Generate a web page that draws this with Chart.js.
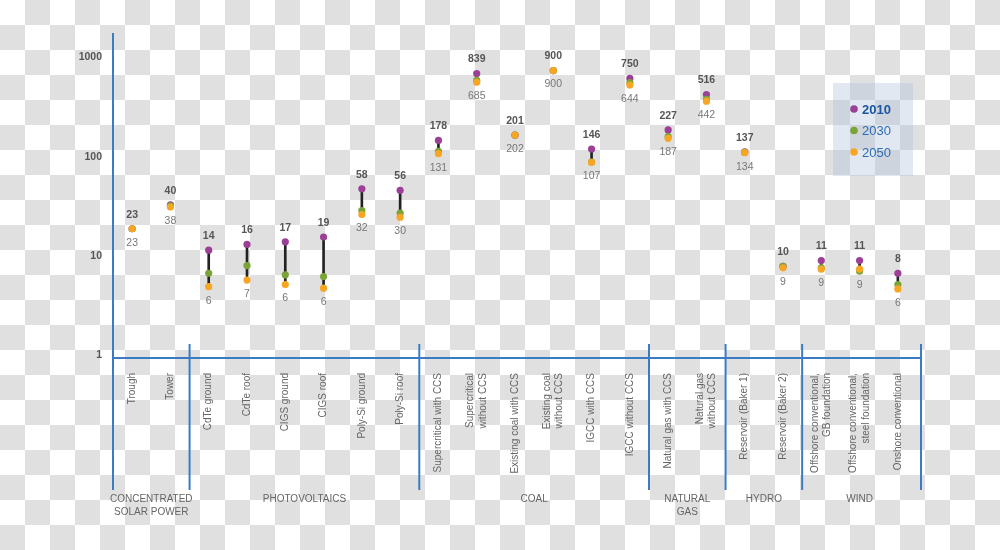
<!DOCTYPE html>
<html>
<head>
<meta charset="utf-8">
<script src="https://cdn.jsdelivr.net/npm/chart.js@4.4.0/dist/chart.umd.min.js"></script>
<style>
  html, body { margin: 0; padding: 0; }
  body {
    width: 1000px; height: 550px;
    background-image: conic-gradient(#e0e0e0 0 25%, #fff 0 50%, #e0e0e0 0 75%, #fff 0);
    background-size: 50px 50px;
  }
  #wrap { width: 1000px; height: 550px; }
</style>
</head>
<body>
<div id="wrap"><canvas id="chart" width="1000" height="550"></canvas></div>
<script>
// Technologies (axe des catégories)
const categories = [
  'Trough', 'Tower',
  'CdTe ground', 'CdTe roof', 'CIGS ground', 'CIGS roof', 'Poly-Si ground', 'Poly-Si roof',
  'Supercritical with CCS', 'Supercritical\nwithout CCS', 'Existing coal with CCS',
  'Existing coal\nwithout CCS', 'IGCC with CCS', 'IGCC without CCS',
  'Natural gas with CCS', 'Natural gas\nwithout CCS',
  'Reservoir (Baker 1)', 'Reservoir (Baker 2)',
  'Offshore conventional,\nGB foundation', 'Offshore conventional,\nsteel foundation', 'Onshore conventional'
];
const groupNames = ['CONCENTRATED\nSOLAR POWER', 'PHOTOVOLTAICS', 'COAL', 'NATURAL\nGAS', 'HYDRO', 'WIND'];
const groupSizes = [2, 6, 6, 2, 2, 3];

const years = ['2010', '2030', '2050'];
const v2010 = [23, 40, 14, 16, 17, 19, 58, 56, 178, 839, 201, 900, 146, 750, 227, 516, 137, 9.6, 11, 11, 8.2];
const v2030 = [23, 39, 8.2, 9.8, 7.9, 7.6, 35, 33, 138, 715, 202, 900, 108, 680, 195, 462, 135, 9.6, 9.3, 8.6, 6.3];
const v2050 = [23, 38, 6, 7, 6.3, 5.8, 32, 30, 131, 685, 202, 900, 107, 644, 187, 442, 134, 9.3, 9, 9, 5.7];

const yTicks = [1, 10, 100, 1000];

const COLORS = ['#9b3f97', '#7aa437', '#f6a623'];
const AXIS_BLUE = '#3a7cc3';
const FONT = '"Liberation Sans", Arial, sans-serif';

// Barre noire entre la valeur mini et maxi
const ranges = categories.map((c, i) => {
  const vals = [v2010[i], v2030[i], v2050[i]];
  return [Math.min(...vals), Math.max(...vals)];
});

function line(ctx, x1, y1, x2, y2) {
  ctx.beginPath();
  ctx.moveTo(x1, y1);
  ctx.lineTo(x2, y2);
  ctx.stroke();
}

const decorPlugin = {
  id: 'decor',
  beforeDatasetsDraw(chart) {
    const { ctx, chartArea, scales: { x } } = chart;
    const half = (x.getPixelForValue(1) - x.getPixelForValue(0)) / 2;
    const baseY = chartArea.bottom - 6;
    ctx.save();
    ctx.strokeStyle = AXIS_BLUE;
    ctx.lineWidth = 2;
    line(ctx, chartArea.left, 33, chartArea.left, 490);
    line(ctx, chartArea.left, baseY, chartArea.right + 4, baseY);
    let idx = 0;
    groupSizes.forEach(n => {
      idx += n;
      const sx = x.getPixelForValue(idx - 1) + half + (idx === categories.length ? 4 : 0);
      line(ctx, sx, baseY - 14, sx, 490);
    });
    ctx.restore();
  },
  afterDatasetsDraw(chart) {
    const { ctx, chartArea, scales: { x, y } } = chart;
    const half = (x.getPixelForValue(1) - x.getPixelForValue(0)) / 2;
    const baseY = chartArea.bottom - 6;
    ctx.save();

    // Valeurs 2010 (au-dessus) et 2050 (en dessous)
    ctx.textAlign = 'center';
    ctx.textBaseline = 'middle';
    categories.forEach((c, i) => {
      const px = x.getPixelForValue(i);
      ctx.font = 'bold 10.5px ' + FONT;
      ctx.fillStyle = '#555';
      ctx.fillText(String(Math.round(v2010[i])), px, y.getPixelForValue(ranges[i][1]) - 14);
      ctx.font = '10.5px ' + FONT;
      ctx.fillStyle = '#777';
      ctx.fillText(String(Math.round(v2050[i])), px, y.getPixelForValue(ranges[i][0]) + 14);
    });

    // Libellés des catégories, tournés
    ctx.font = '10px ' + FONT;
    ctx.fillStyle = '#666';
    categories.forEach((c, i) => {
      const lines = c.split('\n');
      const lh = 12.5;
      const px = x.getPixelForValue(i);
      ctx.save();
      ctx.translate(px - (lines.length - 1) * lh / 2, baseY + 15);
      ctx.rotate(-Math.PI / 2);
      ctx.textAlign = 'right';
      ctx.textBaseline = 'middle';
      lines.forEach((l, k) => ctx.fillText(l, 0, k * lh));
      ctx.restore();
    });

    // Libellés des groupes
    ctx.textAlign = 'center';
    ctx.textBaseline = 'middle';
    let start = 0;
    groupNames.forEach((g, k) => {
      const end = start + groupSizes[k];
      const gx = (x.getPixelForValue(start) + x.getPixelForValue(end - 1)) / 2;
      g.split('\n').forEach((l, j) => ctx.fillText(l, gx, baseY + 141 + j * 13));
      start = end;
    });

    // Légende
    const lx = chartArea.right - 84, ly = 83;
    ctx.fillStyle = 'rgba(170, 190, 218, 0.35)';
    ctx.fillRect(lx, ly, 80, 93);
    years.forEach((yr, k) => {
      const cy = ly + 26 + k * 21.5;
      ctx.fillStyle = COLORS[k];
      ctx.beginPath();
      ctx.arc(lx + 21, cy, 3.8, 0, Math.PI * 2);
      ctx.fill();
      ctx.font = (k === 0 ? 'bold ' : '') + '13px ' + FONT;
      ctx.fillStyle = k === 0 ? '#1b56a0' : '#2a6db5';
      ctx.textAlign = 'left';
      ctx.fillText(yr, lx + 29, cy + 1);
    });
    ctx.restore();
  }
};

const pointDataset = (label, data, k) => ({
  type: 'line',
  label: label,
  data: data,
  showLine: false,
  pointRadius: 3.6,
  pointHoverRadius: 3.6,
  pointBorderWidth: 0,
  pointBackgroundColor: COLORS[k],
  borderColor: COLORS[k],
  order: 3 - k
});

document.addEventListener('DOMContentLoaded', function() {
  const ctx = document.getElementById('chart').getContext('2d');
  new Chart(ctx, {
    type: 'bar',
    data: {
      labels: categories,
      datasets: [
        {
          type: 'bar',
          label: 'range',
          data: ranges,
          backgroundColor: '#222',
          barThickness: 2,
          borderSkipped: false,
          order: 4
        },
        pointDataset(years[0], v2010, 0),
        pointDataset(years[1], v2030, 1),
        pointDataset(years[2], v2050, 2)
      ]
    },
    options: {
      responsive: false,
      animation: false,
      layout: { padding: { top: 66, bottom: 186, left: 0, right: 83 } },
      plugins: {
        legend: { display: false },
        tooltip: { enabled: false }
      },
      scales: {
        x: {
          type: 'category',
          offset: true,
          display: false
        },
        y: {
          type: 'logarithmic',
          min: 1,
          max: 1000,
          afterBuildTicks: scale => { scale.ticks = yTicks.map(v => ({ value: v })); },
          afterFit: scale => { scale.width = 113; },
          grid: { display: false, drawTicks: false },
          border: { display: false },
          ticks: {
            autoSkip: false,
            padding: 11,
            labelOffset: -8.5,
            color: '#555',
            font: { family: FONT, size: 10.5, weight: 'bold' },
            callback: v => String(v)
          }
        }
      }
    },
    plugins: [decorPlugin]
  });
});
</script>
</body>
</html>
